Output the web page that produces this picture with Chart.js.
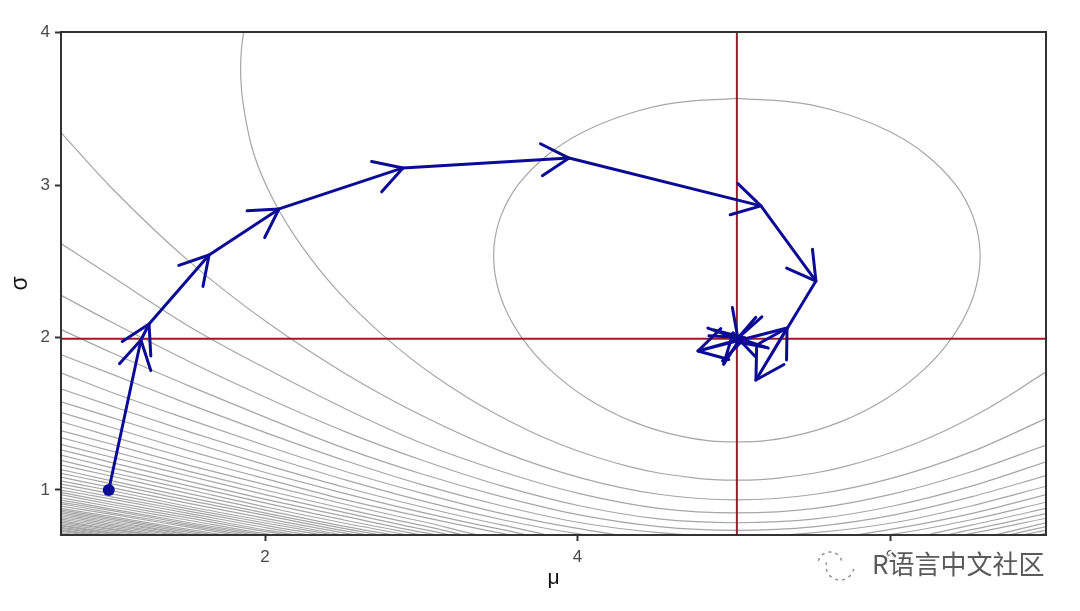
<!DOCTYPE html>
<html>
<head>
<meta charset="utf-8">
<style>html,body{margin:0;padding:0;background:#fff}canvas{display:block}</style>
<script src="https://cdn.jsdelivr.net/npm/chart.js@4"></script>
</head>
<body>
<canvas id="c" width="1080" height="611"></canvas>
<script>
const xTicks = [2, 4, 6];
const yTicks = [1, 2, 3, 4];
const trueMu = 5.02;
const trueSigma = 1.992;

// descent path
const pathMu = [1.0,1.206,1.258,1.642,2.09,2.883,3.946,5.174,5.526,5.142,5.341,4.771,5.072,5.008,4.995,5.027,5.046,5.027];
const pathSigma = [1.0,1.984,2.089,2.542,2.844,3.113,3.178,2.864,2.371,1.722,2.063,1.912,1.997,1.974,2.03,1.991,2.001,1.997];

// closed inner contour
const innerMu = [5.02,5.416,5.708,6.0,6.23,6.422,6.529,6.574,6.565,6.507,6.397,6.227,5.977,5.691,5.365,5.02,4.675,4.349,4.063,3.813,3.643,3.533,3.475,3.466,3.511,3.618,3.81,4.04,4.332,4.624,5.02];
const innerSigma = [3.57,3.54,3.47,3.35,3.2,3.0,2.8,2.6,2.4,2.2,2.0,1.8,1.6,1.45,1.35,1.315,1.35,1.45,1.6,1.8,2.0,2.2,2.4,2.6,2.8,3.0,3.2,3.35,3.47,3.54,3.57];

// second contour, leaves through the top
const outerMu = [1.88,1.85,1.845,1.865,1.93,2.055,2.235,2.47,2.772,3.083,3.475,3.888,4.344,4.74,5.02,5.3,5.696,6.152,6.565,7];
const outerSigma = [4.1,3.9,3.7,3.5,3.2,2.9,2.6,2.3,2.0,1.75,1.5,1.3,1.15,1.08,1.065,1.08,1.15,1.3,1.5,1.775];

// remaining contours: sigma at these mu, left part
const leftMu = [0.69,1.02,1.52,2.02,2.52,3.02,3.52,4.02,4.52,5.02];
const contourLeft = [
[3.35,2.98,2.495,2.095,1.76,1.48,1.25,1.08,.972,.935],
[2.62,2.40,2.07,1.79,1.53,1.30,1.12,.975,.88,.85],
[2.28,2.10,1.84,1.60,1.38,1.19,1.025,.895,.81,.785],
[2.055,1.90,1.68,1.47,1.27,1.10,.955,.835,.76,.735],
[1.89,1.76,1.56,1.37,1.19,1.03,.895,.785,.72,.695],
[1.77,1.64,1.46,1.285,1.12,.975,.845,.745,.68],
[1.665,1.55,1.38,1.22,1.065,.925,.805,.71,.65],
[1.58,1.475,1.315,1.16,1.015,.885,.77,.68],
[1.51,1.41,1.255,1.11,.975,.85,.74,.65],
[1.45,1.35,1.205,1.07,.935,.82,.715,.63],
[1.39,1.30,1.16,1.03,.905,.79,.69],
[1.345,1.255,1.12,.995,.875,.765,.67],
[1.30,1.215,1.09,.965,.85,.74,.655],
[1.265,1.18,1.055,.935,.825,.72,.64],
[1.23,1.145,1.025,.91,.80,.70],
[1.195,1.115,1.0,.885,.78,.685],
[1.165,1.09,.975,.865,.76,.67],
[1.135,1.06,.95,.845,.745,.655],
[1.11,1.04,.93,.83,.73,.64],
[1.085,1.015,.91,.81,.715,.63],
[1.06,.995,.89,.795,.70],
[1.04,.975,.875,.78,.69],
[1.02,.955,.86,.765,.68],
[1.0,.94,.845,.75,.665],
[.985,.92,.83,.735,.655],
[.97,.905,.815,.725,.645],
[.95,.89,.80,.71,.635],
[.935,.875,.785,.70],
[.92,.865,.775,.69],
[.91,.85,.765,.68],
[.895,.84,.755,.67],
[.88,.825,.74,.66],
[.87,.815,.73,.655],
[.86,.805,.72,.645],
[.85,.795,.71,.64],
[.84,.785,.705,.63],
[.83,.775,.695],
[.82,.765,.69],
[.81,.755,.68],
[.80,.745,.675],
[.79,.74,.665],
[.78,.73,.66],
[.77,.72,.65],
[.765,.715,.645],
[.755,.71,.64],
[.75,.70],
[.74,.695],
[.735,.69],
[.73,.68],
[.72,.675],
[.715,.67],
[.705,.665]
];
// same contours where they come back up on the right, aligned to the right edge
const rightMu = [5.52,6.02,6.52,7];
const contourRight = [
[.972,1.08,1.25,1.47],
[.88,.975,1.12,1.295],
[.81,.895,1.025,1.185],
[.76,.835,.955,1.095],
[.72,.785,.895,1.025],
[.68,.745,.845,.97],
[.65,.71,.805,.92],
[.68,.77,.88],
[.65,.74,.845],
[.63,.715,.815],
[.69,.785],
[.67,.76],
[.655,.735],
[.64,.715]
];

const GREY = '#a6a6a6';
const BLUE = '#0b0b96';
const RED = '#9c1a2a';

function pts(xs, ys) { return ys.map((y, i) => ({x: xs[i], y})); }
function contourSet(data, smooth) {
  const d = {data, borderColor: GREY, borderWidth: 1.2, pointRadius: 0, fill: false, order: 3, capBezierPoints: false};
  if (smooth) { d.cubicInterpolationMode = 'monotone'; } else { d.tension = 0.4; }
  return d;
}
const datasets = [];
datasets.push(contourSet(pts(innerMu, innerSigma), false));
datasets.push(contourSet(pts(outerMu, outerSigma), false));
contourLeft.forEach((row, i) => {
  const right = contourRight[i] || [];
  const rx = rightMu.slice(rightMu.length - right.length);
  datasets.push(contourSet(pts(leftMu, row).concat(pts(rx, right)), true));
});
datasets.push({data: pts([trueMu, trueMu], [0.7, 4.01]), borderColor: RED, borderWidth: 2, pointRadius: 0, tension: 0, order: 2});
datasets.push({data: pts([0.69, 7], [trueSigma, trueSigma]), borderColor: RED, borderWidth: 2, pointRadius: 0, tension: 0, order: 2});
datasets.push({data: pts(pathMu, pathSigma), borderColor: BLUE, borderWidth: 3, pointRadius: 0, tension: 0, borderJoinStyle: 'round', order: 1});
datasets.push({data: pts(pathMu.slice(0, 1), pathSigma.slice(0, 1)), showLine: false, pointRadius: 6, pointBackgroundColor: BLUE, pointBorderColor: BLUE, pointBorderWidth: 0, order: 0});

const arrowHeads = {
  id: 'arrowHeads',
  afterDatasetsDraw(chart) {
    const {ctx, scales: {x, y}} = chart;
    const L = 32, A = Math.PI / 6;
    ctx.save();
    ctx.strokeStyle = BLUE; ctx.lineWidth = 3; ctx.lineCap = 'round'; ctx.lineJoin = 'round';
    for (let i = 1; i < pathMu.length; i++) {
      const x0 = x.getPixelForValue(pathMu[i - 1]), y0 = y.getPixelForValue(pathSigma[i - 1]);
      const x1 = x.getPixelForValue(pathMu[i]), y1 = y.getPixelForValue(pathSigma[i]);
      const t = Math.atan2(y0 - y1, x0 - x1);
      ctx.beginPath();
      ctx.moveTo(x1 + L * Math.cos(t + A), y1 + L * Math.sin(t + A));
      ctx.lineTo(x1, y1);
      ctx.lineTo(x1 + L * Math.cos(t - A), y1 + L * Math.sin(t - A));
      ctx.stroke();
    }
    ctx.restore();
  }
};
const frame = {
  id: 'frame',
  afterDraw(chart) {
    const {ctx, chartArea: a} = chart;
    ctx.save();
    ctx.strokeStyle = '#333333'; ctx.lineWidth = 2;
    ctx.strokeRect(a.left, a.top, a.right - a.left, a.bottom - a.top);
    // watermark
    ctx.font = '26px "Noto Sans CJK SC"';
    ctx.textBaseline = 'middle'; ctx.textAlign = 'left';
    ctx.lineWidth = 4; ctx.strokeStyle = 'rgba(255,255,255,0.9)';
    ctx.strokeText('R语言中文社区', 872, 564);
    ctx.fillStyle = '#5a5a5a';
    ctx.fillText('R语言中文社区', 872, 564);
    ctx.strokeStyle = '#8a8a8a'; ctx.lineWidth = 1.4; ctx.setLineDash([3, 4]);
    ctx.beginPath(); ctx.arc(840, 566, 14, 0.2, 3.4); ctx.stroke();
    ctx.beginPath(); ctx.arc(830, 564, 12, 3.4, 6.0); ctx.stroke();
    ctx.restore();
  }
};

new Chart(document.getElementById('c'), {
  type: 'line',
  data: {datasets},
  plugins: [arrowHeads, frame],
  options: {
    responsive: false,
    animation: false,
    events: [],
    parsing: false,
    normalized: false,
    layout: {padding: {left: 0, right: 34, top: 32, bottom: 0}},
    plugins: {legend: {display: false}, tooltip: {enabled: false}, title: {display: false}},
    scales: {
      x: {
        type: 'linear', min: 0.6944, max: 6.9984,
        grid: {display: true, drawOnChartArea: false, drawTicks: true, tickLength: 6, tickColor: '#333333', tickWidth: 2},
        border: {display: false},
        afterBuildTicks(s) { s.ticks = xTicks.map(value => ({value})); },
        afterFit(s) { s.height = 76; },
        ticks: {color: '#4a4a4a', font: {family: '"Liberation Sans"', size: 17}, maxRotation: 0, padding: 6, callback: v => String(v)},
        title: {display: true, text: 'μ', color: '#111', font: {family: '"Liberation Sans"', size: 21}, padding: {top: 0, bottom: 20}}
      },
      y: {
        type: 'linear', min: 0.7047, max: 4.005,
        grid: {display: true, drawOnChartArea: false, drawTicks: true, tickLength: 6, tickColor: '#333333', tickWidth: 2},
        border: {display: false},
        afterBuildTicks(s) { s.ticks = yTicks.map(value => ({value})); },
        afterFit(s) { s.width = 61; },
        ticks: {color: '#4a4a4a', font: {family: '"Liberation Sans"', size: 17}, padding: 5, callback: v => String(v)},
        title: {display: true, text: 'σ', color: '#111', font: {family: '"Liberation Sans"', size: 23}, padding: {top: 7, bottom: 0}}
      }
    }
  }
});
</script>
</body>
</html>
